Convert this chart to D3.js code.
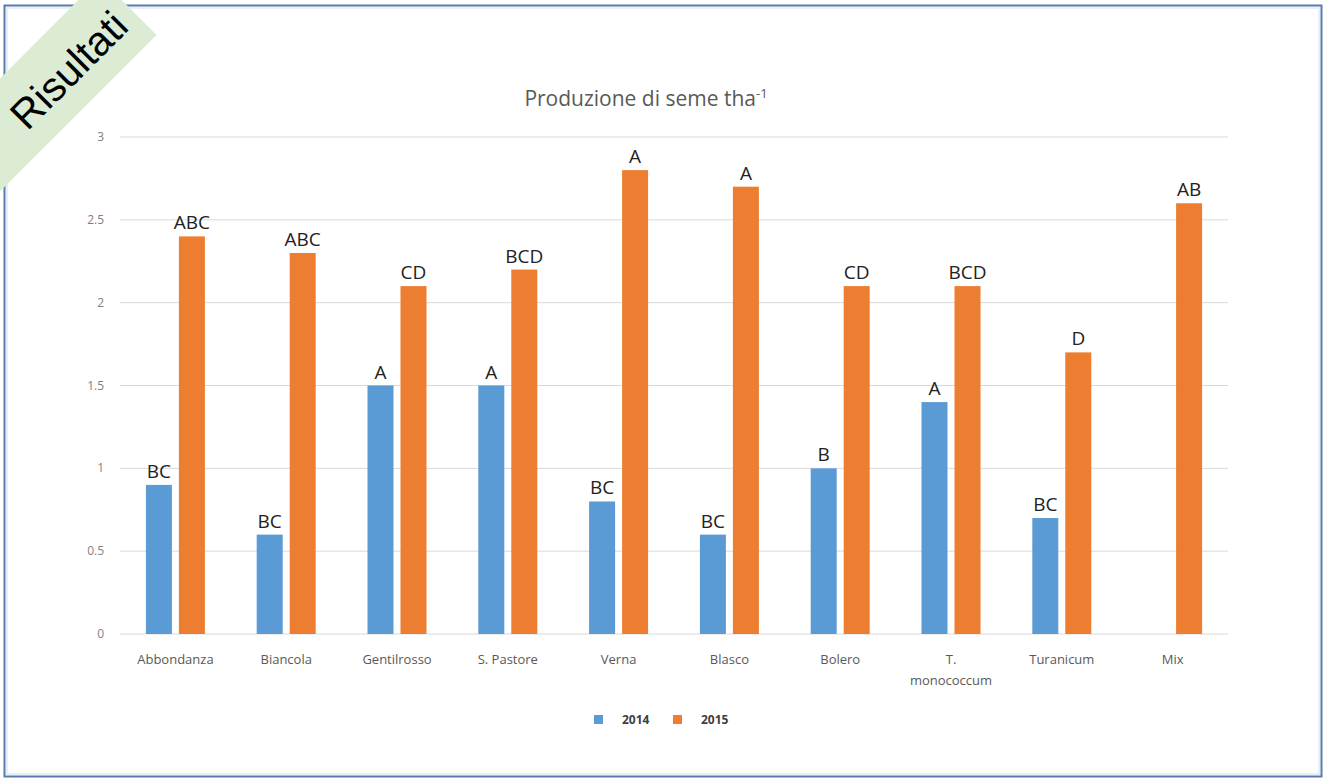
<!DOCTYPE html>
<html>
<head>
<meta charset="utf-8">
<script src="https://cdn.jsdelivr.net/npm/d3@7"></script>
<style>
  body { margin: 0; background: #fff; }
  svg { display: block; }
</style>
</head>
<body>
<div id="chart"></div>
<script>
// data
var varieties = ["Abbondanza", "Biancola", "Gentilrosso", "S. Pastore", "Verna",
  "Blasco", "Bolero", "T. monococcum", "Turanicum", "Mix"];
var years = ["2014", "2015"];
var values2014 = [0.9, 0.6, 1.5, 1.5, 0.8, 0.6, 1.0, 1.4, 0.7, null];
var values2015 = [2.4, 2.3, 2.1, 2.2, 2.8, 2.7, 2.1, 2.1, 1.7, 2.6];
var letters2014 = ["BC", "BC", "A", "A", "BC", "BC", "B", "A", "BC", ""];
var letters2015 = ["ABC", "ABC", "CD", "BCD", "A", "A", "CD", "BCD", "D", "AB"];
var yTicks = [0, 0.5, 1, 1.5, 2, 2.5, 3];

var width = 1326, height = 779;
var margin = { top: 137, right: 98, bottom: 145, left: 120 };
var colors = { "2014": "#5b9bd5", "2015": "#ed7d31" };

var svg = d3.select("#chart").append("svg")
  .attr("width", width)
  .attr("height", height);

// outer frame
svg.append("rect")
  .attr("x", 4.5).attr("y", 5.5)
  .attr("width", 1317).attr("height", 771)
  .attr("fill", "#fff")
  .attr("stroke", "#5a7bab")
  .attr("stroke-width", 2);
svg.append("rect")
  .attr("x", 7).attr("y", 8)
  .attr("width", 1312).attr("height", 766)
  .attr("fill", "none")
  .attr("stroke", "#e6f0fb")
  .attr("stroke-width", 2);

var x0 = d3.scaleBand()
  .domain(varieties)
  .range([margin.left, width - margin.right]);
var x1 = d3.scaleBand()
  .domain(years)
  .range([0, x0.bandwidth()])
  .paddingInner(0.212)
  .paddingOuter(0.785);
var y = d3.scaleLinear()
  .domain([0, 3])
  .range([height - margin.bottom, margin.top]);

// gridlines
svg.append("g")
  .selectAll("line")
  .data(yTicks)
  .enter()
  .append("line")
  .attr("x1", margin.left)
  .attr("x2", width - margin.right)
  .attr("y1", (d) => y(d))
  .attr("y2", (d) => y(d))
  .attr("stroke", "#d9d9d9")
  .attr("stroke-width", 1);

// y tick labels
svg.append("g")
  .selectAll("text")
  .data(yTicks)
  .enter()
  .append("text")
  .attr("x", 104)
  .attr("y", (d) => y(d) + 4)
  .attr("text-anchor", "end")
  .attr("font-family", "Open Sans, sans-serif")
  .attr("font-size", 12)
  .attr("fill", "#7f7f7f")
  .text((d) => d);

// bars + letters
var rows = varieties.map(function (v, i) {
  return [
    { cat: v, year: "2014", value: values2014[i], letter: letters2014[i] },
    { cat: v, year: "2015", value: values2015[i], letter: letters2015[i] }
  ];
});

var groups = svg.append("g")
  .selectAll("g")
  .data(rows)
  .enter()
  .append("g")
  .attr("transform", (d) => "translate(" + x0(d[0].cat) + ",0)");

groups.selectAll("rect")
  .data((d) => d.filter((e) => e.value != null))
  .enter()
  .append("rect")
  .attr("x", (d) => x1(d.year))
  .attr("width", x1.bandwidth())
  .attr("y", (d) => y(d.value))
  .attr("height", (d) => y(0) - y(d.value))
  .attr("fill", (d) => colors[d.year]);

groups.selectAll("text")
  .data((d) => d.filter((e) => e.value != null))
  .enter()
  .append("text")
  .attr("x", (d) => x1(d.year) + x1.bandwidth() / 2)
  .attr("y", (d) => y(d.value) - 7)
  .attr("text-anchor", "middle")
  .attr("font-family", "Open Sans, sans-serif")
  .attr("font-size", 19)
  .attr("fill", "#222")
  .text((d) => d.letter);

// category labels (T. monococcum wraps)
var catLabels = svg.append("g")
  .selectAll("text")
  .data(varieties)
  .enter()
  .append("text")
  .attr("text-anchor", "middle")
  .attr("font-family", "Open Sans, sans-serif")
  .attr("font-size", 13)
  .attr("fill", "#595959")
  .attr("transform", (d) => "translate(" + (x0(d) + x0.bandwidth() / 2) + ",664)");

catLabels.each(function (d) {
  var t = d3.select(this);
  var parts = d == "T. monococcum" ? ["T.", "monococcum"] : [d];
  parts.forEach(function (p, i) {
    t.append("tspan").attr("x", 0).attr("dy", i == 0 ? 0 : 21).text(p);
  });
});

// title
var title = svg.append("text")
  .attr("x", 646)
  .attr("y", 106)
  .attr("text-anchor", "middle")
  .attr("font-family", "Open Sans, sans-serif")
  .attr("font-size", 21)
  .attr("fill", "#595959");
title.append("tspan").text("Produzione di seme tha");
title.append("tspan").attr("dy", -8).attr("font-size", 13).text("-1");

// legend
var legend = svg.append("g")
  .selectAll("g")
  .data(years)
  .enter()
  .append("g")
  .attr("transform", (d, i) => "translate(" + (594 + i * 79) + ",715)");
legend.append("rect")
  .attr("width", 9).attr("height", 9)
  .attr("fill", (d) => colors[d]);
legend.append("text")
  .attr("x", 28)
  .attr("y", 9)
  .attr("font-family", "Open Sans, sans-serif")
  .attr("font-size", 12)
  .attr("font-weight", "bold")
  .attr("fill", "#404040")
  .text((d) => d);

// "Risultati" ribbon in the corner
var ribbon = svg.append("g")
  .attr("transform", "translate(67.5,67.5) rotate(-45)");
ribbon.append("rect")
  .attr("x", -200).attr("y", -40)
  .attr("width", 286).attr("height", 80)
  .attr("fill", "#dcebd4");
ribbon.append("text")
  .attr("x", -1)
  .attr("y", 17)
  .attr("text-anchor", "middle")
  .attr("font-family", "Liberation Sans, Arial, sans-serif")
  .attr("font-size", 41)
  .attr("fill", "#000")
  .text("Risultati");
</script>
</body>
</html>
